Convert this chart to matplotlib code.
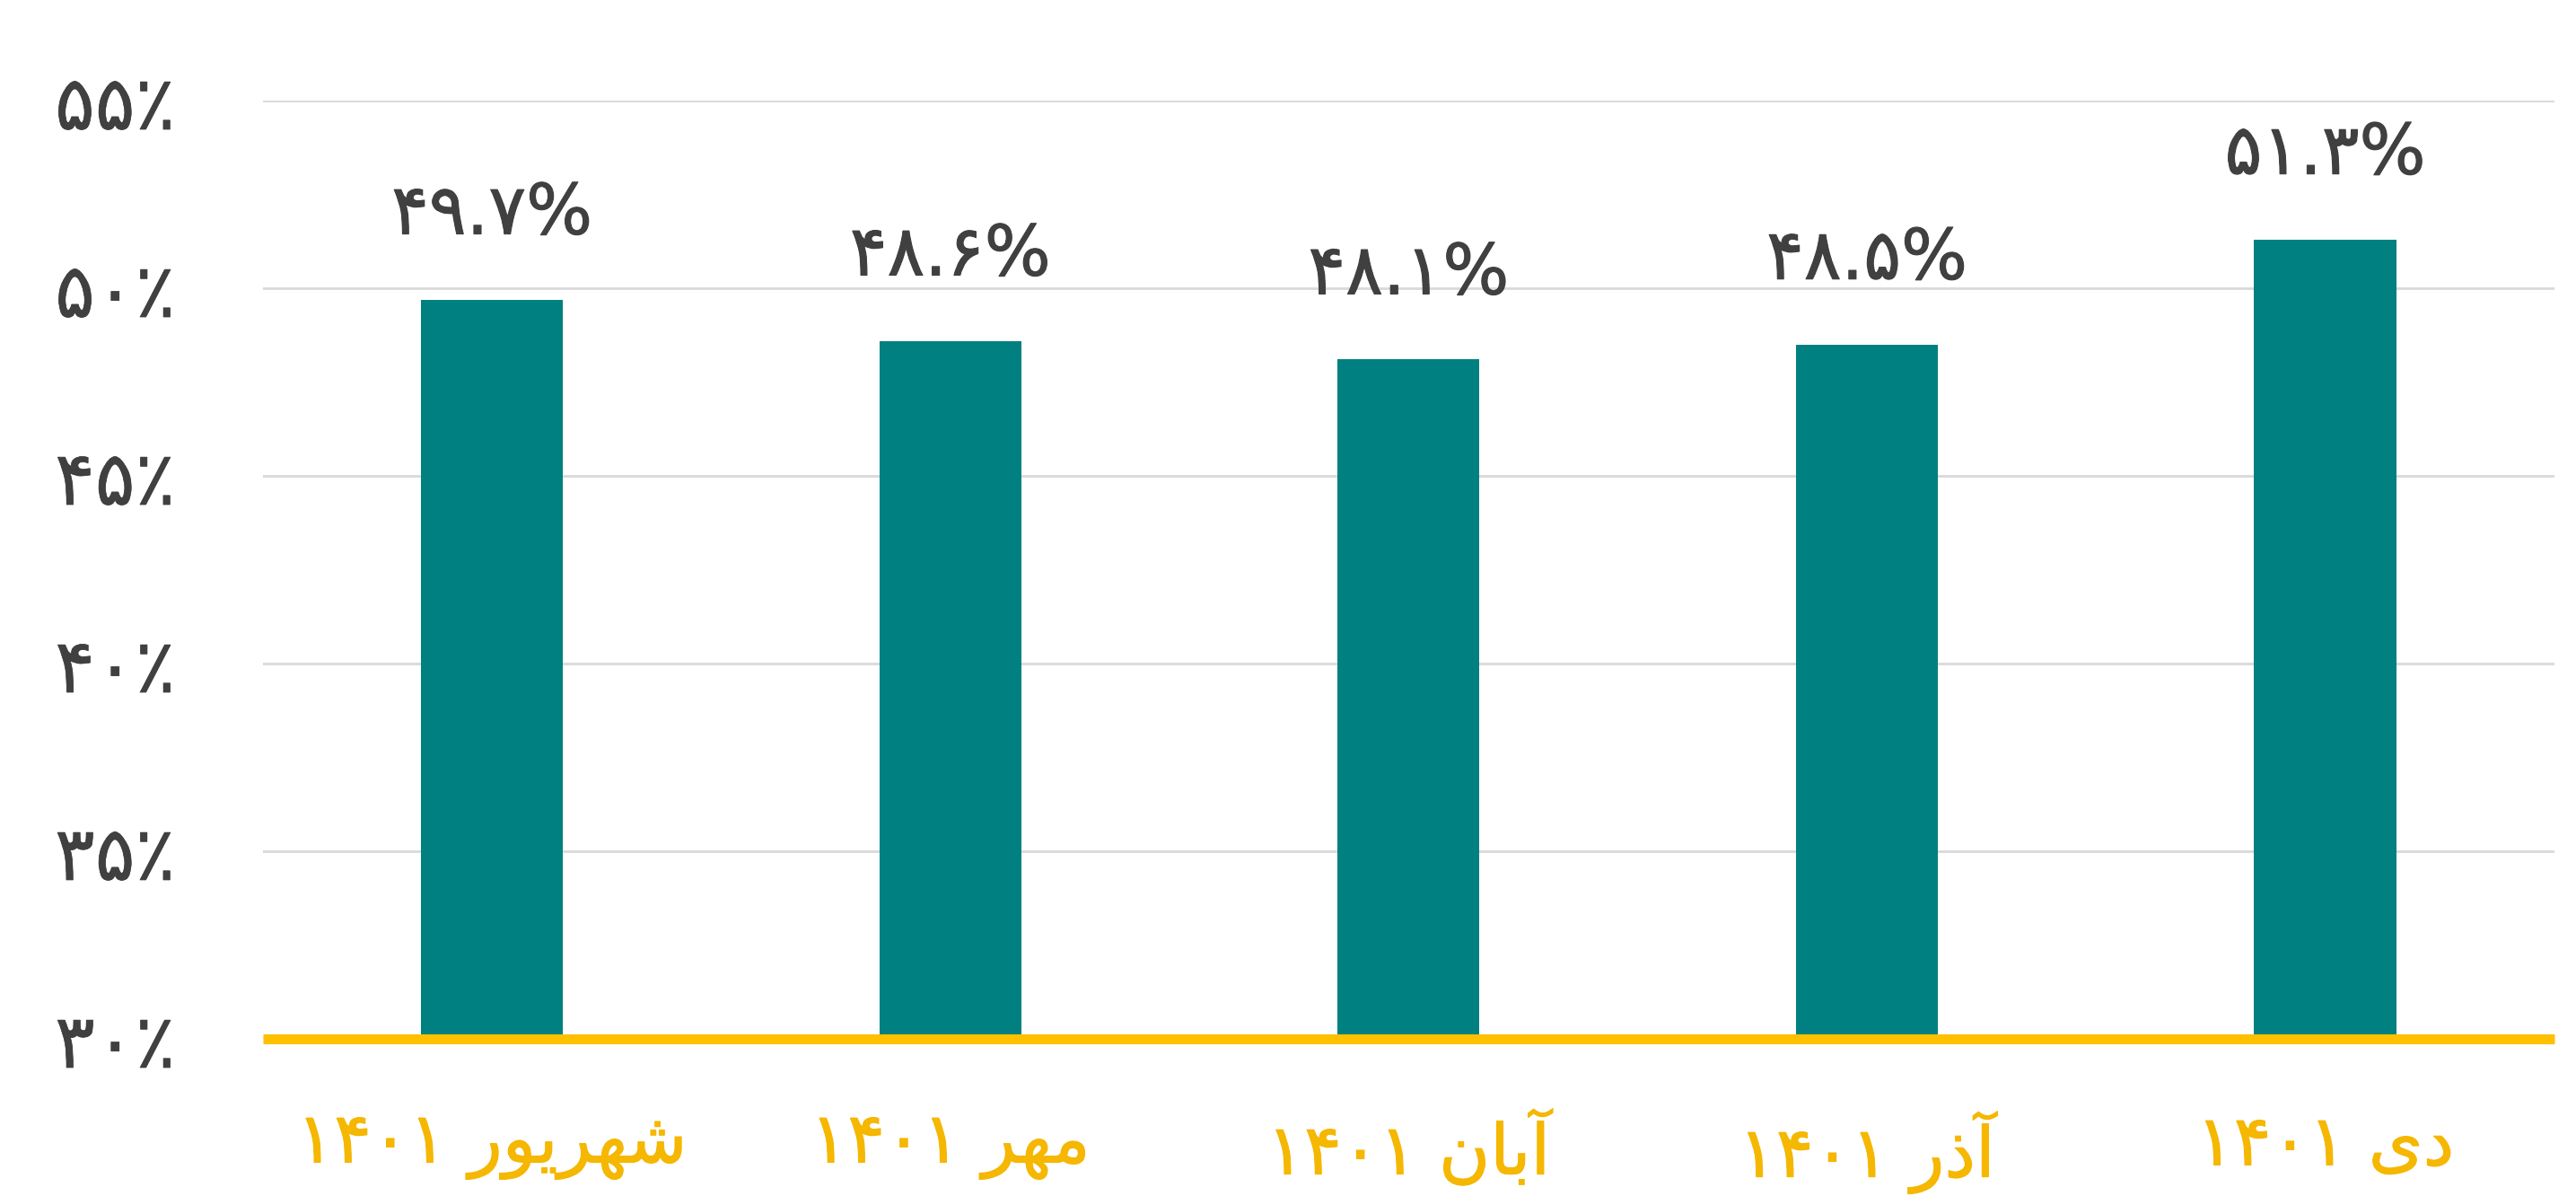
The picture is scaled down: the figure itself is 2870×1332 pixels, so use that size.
import matplotlib
matplotlib.use("Agg")
from matplotlib import pyplot as plt
from matplotlib.ticker import FuncFormatter
import matplotlib.patheffects as pe

# data (month names in Persian, year 1401)
months = ['شهریور', 'مهر', 'آبان', 'آذر', 'دی']
year = '1401'
values = [49.7, 48.6, 48.1, 48.5, 51.3]
yticks = [30, 35, 40, 45, 50, 55]

FA_DIGITS = str.maketrans('0123456789', '۰۱۲۳۴۵۶۷۸۹')

# presentation forms: (isolated, final, initial, medial); None -> right-joining only
FORMS = {
    'ش': ('\uFEB5', '\uFEB6', '\uFEB7', '\uFEB8'),
    'ه': ('\uFEE9', '\uFEEA', '\uFEEB', '\uFEEC'),
    'ی': ('\uFEEF', '\uFEF0', '\uFEF3', '\uFEF4'),
    'م': ('\uFEE1', '\uFEE2', '\uFEE3', '\uFEE4'),
    'ب': ('\uFE8F', '\uFE90', '\uFE91', '\uFE92'),
    'ن': ('\uFEE5', '\uFEE6', '\uFEE7', '\uFEE8'),
    'ر': ('\uFEAD', '\uFEAE', None, None),
    'و': ('\uFEED', '\uFEEE', None, None),
    'آ': ('\uFE81', '\uFE82', None, None),
    'ا': ('\uFE8D', '\uFE8E', None, None),
    'ذ': ('\uFEAB', '\uFEAC', None, None),
    'د': ('\uFEA9', '\uFEAA', None, None),
}


def shape(word):
    out = []
    for i, ch in enumerate(word):
        f = FORMS[ch]
        prev = i > 0 and FORMS[word[i - 1]][2] is not None
        nxt = i < len(word) - 1 and f[2] is not None
        if prev and nxt:
            out.append(f[3])
        elif prev:
            out.append(f[1])
        elif nxt:
            out.append(f[2])
        else:
            out.append(f[0])
    return ''.join(reversed(out))


labels = [year.translate(FA_DIGITS) + ' ' + shape(m) for m in months]

plt.rcParams['font.family'] = ['DejaVu Sans']
text_c = '#404040'
gold_txt = '#f5b700'

fig = plt.figure(figsize=(28.7, 13.32), dpi=100)
ax = fig.add_axes([0.102, 0.1314, 0.8896, 0.7845])

x = list(range(len(values)))
ax.bar(x, [v - 30 for v in values], bottom=30, width=0.31, color='#008080', zorder=2)

ax.set_xlim(-0.5, len(values) - 0.5)
ax.set_ylim(30, 55)
ax.set_yticks(yticks)
ax.yaxis.set_major_formatter(FuncFormatter(lambda v, p: str(int(v)).translate(FA_DIGITS) + '٪'))
ax.grid(axis='y', color='#d9d9d9', lw=2, zorder=0)
ax.set_axisbelow(True)

for s in ['top', 'right', 'left']:
    ax.spines[s].set_visible(False)
ax.spines['bottom'].set_color('#ffc000')
ax.spines['bottom'].set_linewidth(8)
ax.spines['bottom'].set_capstyle('butt')
ax.spines['bottom'].set_zorder(3)

ax.set_xticks(x)
ax.set_xticklabels(labels)
ax.tick_params(axis='x', length=0, pad=58, labelsize=56, labelcolor=gold_txt)
ax.tick_params(axis='y', length=0, pad=70, labelsize=60, labelcolor=text_c)

for t in ax.get_xticklabels():
    t.set_path_effects([pe.withStroke(linewidth=0.8, foreground=gold_txt)])
for t in ax.get_yticklabels():
    t.set_path_effects([pe.withStroke(linewidth=0.5, foreground=text_c)])

for xi, v in zip(x, values):
    ax.annotate(('%.1f' % v).translate(FA_DIGITS) + '%', (xi, v), xytext=(0, 95),
                textcoords='offset pixels', ha='center', va='center',
                fontsize=56, color=text_c,
                path_effects=[pe.withStroke(linewidth=0.8, foreground=text_c)])

fig.savefig('out.png', dpi=100, facecolor='white')
